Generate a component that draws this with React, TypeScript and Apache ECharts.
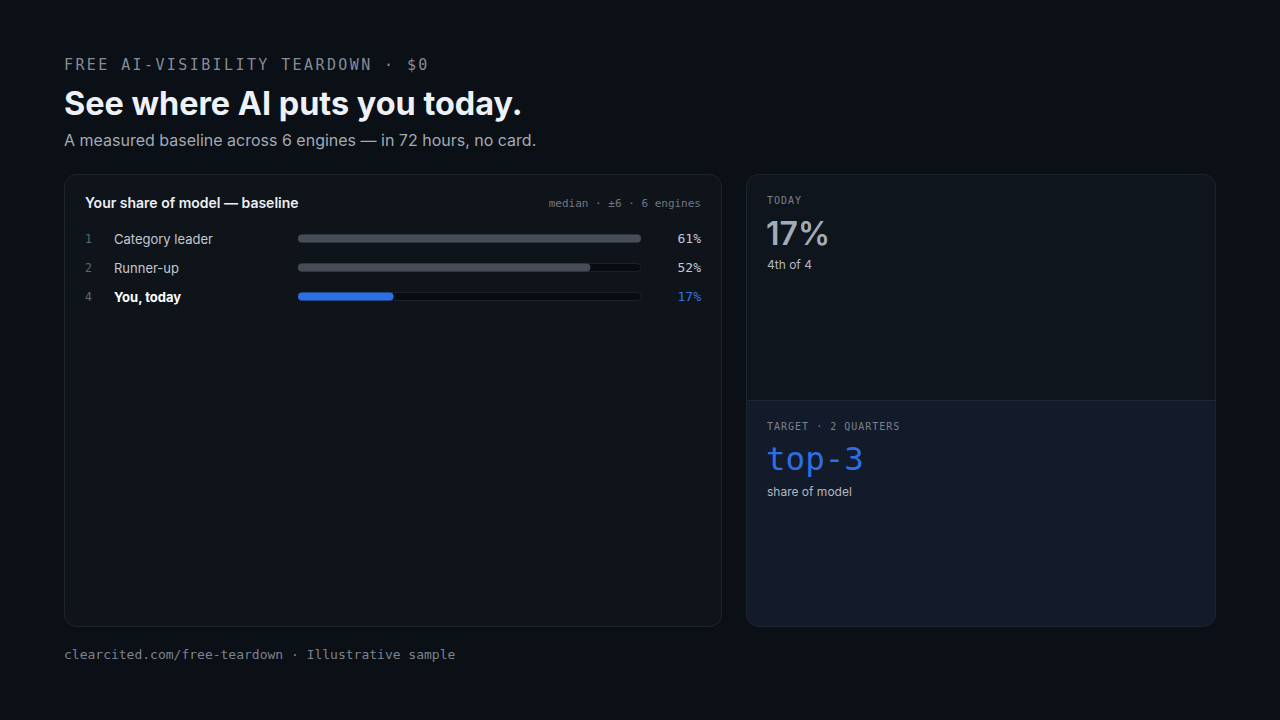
import React, { useEffect, useRef } from "react";
import * as echarts from "echarts";

const ranks = ["1", "2", "4"];
const names = ["Category leader", "Runner-up", "You, today"];
const shares = [61, 52, 17];
const highlightIndex = 2;
const scaleMax = 61;

const kicker = "FREE AI-VISIBILITY TEARDOWN · $0";
const headline = "See where AI puts you today.";
const subline = "A measured baseline across 6 engines — in 72 hours, no card.";
const cardTitle = "Your share of model — baseline";
const cardNote = "median · ±6 · 6 engines";
const todayLabel = "TODAY";
const todayValue = "17%";
const todayRank = "4th of 4";
const targetLabel = "TARGET · 2 QUARTERS";
const targetValue = "top-3";
const targetNote = "share of model";
const footer = "clearcited.com/free-teardown · Illustrative sample";

const MONO = "'DejaVu Sans Mono', monospace";
const SANS = "Inter, 'Noto Sans', sans-serif";

function spaced(str: string, x: number, y: number, size: number, spacing: number, color: string) {
  const adv = size * 0.602 + spacing;
  return {
    type: "group",
    z: 10,
    children: str.split("").map((ch, i) => ({
      type: "text",
      x: x + i * adv,
      y,
      z: 10,
      style: { text: ch, fill: color, font: `400 ${size}px ${MONO}`, verticalAlign: "middle", align: "left" },
    })),
  };
}

function txt(text: string, x: number, y: number, font: string, fill: string, align = "left") {
  return { type: "text", x, y, z: 10, style: { text, font, fill, align, verticalAlign: "middle" } };
}

export default function App() {
  const ref = useRef<HTMLDivElement>(null);
  useEffect(() => {
    const chart = echarts.init(ref.current!, null, { renderer: "svg" });
    const option: any = {
      animation: false,
      backgroundColor: "#0b0f16",
      grid: { left: 298, right: 639, top: 224, height: 87 },
      xAxis: { type: "value", min: 0, max: scaleMax, show: false },
      yAxis: [
        {
          type: "category",
          data: names,
          inverse: true,
          axisLine: { show: false },
          axisTick: { show: false },
          axisLabel: {
            align: "left",
            margin: 213,
            formatter: (v: string, i: number) =>
              `{r|${ranks[i]}}{${i === highlightIndex ? "nb" : "n"}|${v}}`,
            rich: {
              r: { fontFamily: MONO, fontSize: 11.5, color: "#5f6772", width: 29 },
              n: { fontFamily: SANS, fontSize: 13, fontWeight: 400, color: "#c3c9d1" },
              nb: { fontFamily: SANS, fontSize: 13, fontWeight: 700, color: "#ffffff" },
            },
          },
        },
        {
          type: "category",
          data: names,
          inverse: true,
          position: "right",
          axisLine: { show: false },
          axisTick: { show: false },
          axisLabel: {
            align: "right",
            margin: 60,
            formatter: (_v: string, i: number) => `{${i === highlightIndex ? "pb" : "p"}|${shares[i]}%}`,
            rich: {
              p: { fontFamily: MONO, fontSize: 13, color: "#c3c9d1" },
              pb: { fontFamily: MONO, fontSize: 13, color: "#2f74e6" },
            },
          },
        },
      ],
      series: [
        {
          type: "bar",
          barWidth: 8,
          z: 5,
          data: shares.map((v, i) => ({
            value: v,
            itemStyle: { color: i === highlightIndex ? "#2b6fe4" : "#474d56", borderRadius: 4 },
          })),
          showBackground: true,
          backgroundStyle: { color: "#080b10", borderColor: "#1b212a", borderWidth: 1, borderRadius: 4 },
        },
      ],
      graphic: [
        {
          type: "rect",
          z: -5,
          shape: { x: 64.5, y: 174.5, width: 657, height: 452, r: 12 },
          style: { fill: "#0f141b", stroke: "#1e242c", lineWidth: 1 },
        },
        {
          type: "rect",
          z: -5,
          shape: { x: 746.5, y: 174.5, width: 469, height: 226, r: [12, 12, 0, 0] },
          style: { fill: "#0f151c" },
        },
        {
          type: "rect",
          z: -5,
          shape: { x: 746.5, y: 400.5, width: 469, height: 226, r: [0, 0, 12, 12] },
          style: { fill: "#131a2a" },
        },
        {
          type: "rect",
          z: -4,
          shape: { x: 746.5, y: 174.5, width: 469, height: 452, r: 12 },
          style: { fill: "none", stroke: "#1e242c", lineWidth: 1 },
        },
        {
          type: "line",
          z: -4,
          shape: { x1: 747, y1: 400.5, x2: 1215, y2: 400.5 },
          style: { stroke: "#1f2732", lineWidth: 1 },
        },
        spaced(kicker, 64, 65, 15, 2.4, "#858c96"),
        txt(headline, 64, 103, `700 32.4px ${SANS}`, "#eef1f5"),
        txt(subline, 64, 140, `400 16px ${SANS}`, "#a3aab4"),
        txt(cardTitle, 85, 202, `600 14px ${SANS}`, "#eceff3"),
        txt(cardNote, 701, 203, `400 11px ${MONO}`, "#6f7782", "right"),
        spaced(todayLabel, 767, 200, 10, 1, "#7a828c"),
        txt(todayValue, 766, 233, `600 32px ${SANS}`, "#a3abb6"),
        txt(todayRank, 767, 264, `400 12px ${SANS}`, "#b2b8c0"),
        spaced(targetLabel, 767, 426, 10, 1, "#7a828c"),
        txt(targetValue, 766, 459, `400 32.5px ${MONO}`, "#2d6fe2"),
        txt(targetNote, 767, 491, `400 12px ${SANS}`, "#b2b8c0"),
        txt(footer, 64, 654, `400 13px ${MONO}`, "#7b838d"),
      ],
    };
    chart.setOption(option);
    return () => chart.dispose();
  }, []);
  return (
    <div
      ref={ref}
      style={{ position: "fixed", left: 0, top: 0, width: 1280, height: 720 }}
    />
  );
}
